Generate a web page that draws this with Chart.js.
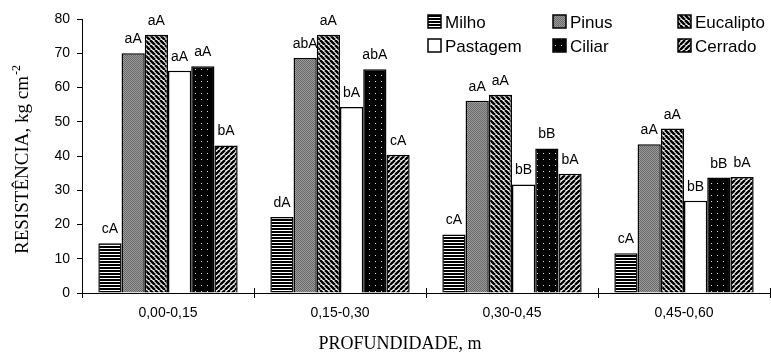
<!DOCTYPE html>
<html>
<head>
<meta charset="utf-8">
<script src="https://cdn.jsdelivr.net/npm/chart.js@4.4.0/dist/chart.umd.min.js"></script>
<style>
  body { margin: 0; background: #fff; }
</style>
</head>
<body>
<canvas id="resistChart" width="771" height="352"></canvas>
<script>
// profundidades (eixo x)
const profundidades = ["0,00-0,15", "0,15-0,30", "0,30-0,45", "0,45-0,60"];
const yTicks = [0, 10, 20, 30, 40, 50, 60, 70, 80];

// resistência por uso do solo, kg cm-2
const milho     = [14.5, 22.2, 17.1, 11.6];
const pinus     = [70.0, 68.6, 56.1, 43.4];
const eucalipto = [75.4, 75.4, 57.9, 48.0];
const pastagem  = [64.9, 54.3, 31.7, 26.9];
const ciliar    = [66.2, 65.3, 42.2, 33.7];
const cerrado   = [43.1, 40.4, 34.8, 33.9];

// letras do teste de médias
const letrasMilho     = ["cA", "dA", "cA", "cA"];
const letrasPinus     = ["aA", "abA", "aA", "aA"];
const letrasEucalipto = ["aA", "aA", "aA", "aA"];
const letrasPastagem  = ["aA", "bA", "bB", "bB"];
const letrasCiliar    = ["aA", "abA", "bB", "bB"];
const letrasCerrado   = ["bA", "cA", "bA", "bA"];

const sans = '"Liberation Sans", Arial, sans-serif';
const serif = '"Liberation Serif", "Times New Roman", serif';

// padrões de preenchimento (hachuras)
function makePattern(kind) {
    const c = document.createElement("canvas");
    const g = c.getContext("2d");
    if (kind === "horiz") {
        c.width = 3; c.height = 3;
        g.fillStyle = "#fff"; g.fillRect(0, 0, 3, 3);
        g.fillStyle = "#000"; g.fillRect(0, 0, 3, 2);
    } else if (kind === "gray") {
        c.width = 2; c.height = 2;
        g.fillStyle = "#9a9a9a"; g.fillRect(0, 0, 2, 2);
        g.fillStyle = "#6a6a6a"; g.fillRect(0, 0, 1, 1); g.fillRect(1, 1, 1, 1);
    } else if (kind === "back" || kind === "fwd") {
        const s = 5;
        c.width = s; c.height = s;
        g.fillStyle = "#fff"; g.fillRect(0, 0, s, s);
        g.strokeStyle = "#000";
        g.lineWidth = kind === "back" ? 2.6 : 2.4;
        g.beginPath();
        for (let k = -1; k <= 1; k++) {
            if (kind === "back") {
                g.moveTo(k * s, 0); g.lineTo(k * s + s, s);
            } else {
                g.moveTo(k * s, s); g.lineTo(k * s + s, 0);
            }
        }
        g.stroke();
    } else if (kind === "dots") {
        c.width = 6; c.height = 6;
        g.fillStyle = "#000"; g.fillRect(0, 0, 6, 6);
        g.fillStyle = "#ddd"; g.fillRect(3, 3, 1, 1);
    } else {
        c.width = 1; c.height = 1;
        g.fillStyle = "#fff"; g.fillRect(0, 0, 1, 1);
    }
    return g.createPattern(c, "repeat");
}

const series = [
    { label: "Milho", data: milho, letras: letrasMilho, fill: makePattern("horiz") },
    { label: "Pinus", data: pinus, letras: letrasPinus, fill: makePattern("gray") },
    { label: "Eucalipto", data: eucalipto, letras: letrasEucalipto, fill: makePattern("back") },
    { label: "Pastagem", data: pastagem, letras: letrasPastagem, fill: makePattern("white") },
    { label: "Ciliar", data: ciliar, letras: letrasCiliar, fill: makePattern("dots") },
    { label: "Cerrado", data: cerrado, letras: letrasCerrado, fill: makePattern("fwd") },
];

// letras em cima das barras
const letrasPlugin = {
    id: "letras",
    afterDatasetsDraw(chart) {
        const ctx = chart.ctx;
        ctx.save();
        ctx.font = "14px " + sans;
        ctx.fillStyle = "#000";
        ctx.textAlign = "center";
        ctx.textBaseline = "alphabetic";
        chart.data.datasets.forEach((ds, i) => {
            chart.getDatasetMeta(i).data.forEach((bar, j) => {
                ctx.fillText(ds.letras[j], bar.x, bar.y - 10);
            });
        });
        ctx.restore();
    },
};

// legenda em 3 colunas, titulos dos eixos e marcas cruzando o eixo x
const extrasPlugin = {
    id: "extras",
    afterDraw(chart) {
        const ctx = chart.ctx;
        const area = chart.chartArea;
        ctx.save();

        // legenda
        const colX = [428, 553, 678];
        const rowY = [22, 46];
        ctx.font = "17px " + sans;
        ctx.textBaseline = "middle";
        ctx.textAlign = "left";
        chart.data.datasets.forEach((ds, i) => {
            const x = colX[i % 3], y = rowY[Math.floor(i / 3)];
            ctx.fillStyle = ds.backgroundColor;
            ctx.fillRect(x, y - 7, 13, 13);
            ctx.strokeStyle = "#000";
            ctx.lineWidth = 1.5;
            ctx.strokeRect(x, y - 7, 13, 13);
            ctx.fillStyle = "#000";
            ctx.fillText(ds.label, x + 17, y + 1);
        });

        // marcas do eixo x para cima
        ctx.strokeStyle = "#000";
        ctx.lineWidth = 1;
        const n = chart.data.labels.length;
        for (let i = 0; i <= n; i++) {
            const x = Math.round(area.left + (i * (area.right - area.left)) / n) + 0.5;
            ctx.beginPath();
            ctx.moveTo(x, area.bottom - 5);
            ctx.lineTo(x, area.bottom);
            ctx.stroke();
        }

        // titulo x
        ctx.fillStyle = "#000";
        ctx.font = "18px " + serif;
        ctx.textAlign = "center";
        ctx.textBaseline = "alphabetic";
        ctx.fillText("PROFUNDIDADE, m", 400, 349);

        // titulo y com expoente
        ctx.translate(28, 160);
        ctx.rotate(-Math.PI / 2);
        const main = "RESISTÊNCIA, kg cm";
        const sup = "-2";
        ctx.font = "19px " + serif;
        const wMain = ctx.measureText(main).width;
        ctx.font = "12px " + serif;
        const wSup = ctx.measureText(sup).width;
        const x0 = -(wMain + wSup) / 2;
        ctx.textAlign = "left";
        ctx.font = "19px " + serif;
        ctx.fillText(main, x0, 0);
        ctx.font = "12px " + serif;
        ctx.fillText(sup, x0 + wMain + 1, -8);

        ctx.restore();
    },
};

const ctx = document.getElementById("resistChart").getContext("2d");
const resistChart = new Chart(ctx, {
    type: "bar",
    data: {
        labels: profundidades,
        datasets: series.map((s) => ({
            label: s.label,
            data: s.data,
            letras: s.letras,
            backgroundColor: s.fill,
            borderColor: "#000",
            borderWidth: 1.5,
            categoryPercentage: 0.81,
            barPercentage: 1.0,
        })),
    },
    options: {
        responsive: false,
        animation: false,
        devicePixelRatio: 1,
        layout: { padding: { top: 19, right: 1, left: 0, bottom: 0 } },
        plugins: {
            legend: { display: false },
            tooltip: { enabled: false },
        },
        scales: {
            x: {
                grid: { drawOnChartArea: false, tickLength: 5, color: "#000", offset: true },
                border: { color: "#000", width: 1 },
                ticks: { color: "#000", font: { size: 14, family: sans }, padding: 7 },
                afterFit(scale) { scale.height = 59; },
            },
            y: {
                min: yTicks[0],
                max: yTicks[yTicks.length - 1],
                afterBuildTicks(scale) { scale.ticks = yTicks.map((v) => ({ value: v })); },
                grid: { drawOnChartArea: false, tickLength: 5, color: "#000" },
                border: { color: "#000", width: 1 },
                ticks: { color: "#000", font: { size: 14, family: sans }, padding: 7 },
                afterFit(scale) { scale.width = 82; },
            },
        },
    },
    plugins: [letrasPlugin, extrasPlugin],
});
</script>
</body>
</html>
